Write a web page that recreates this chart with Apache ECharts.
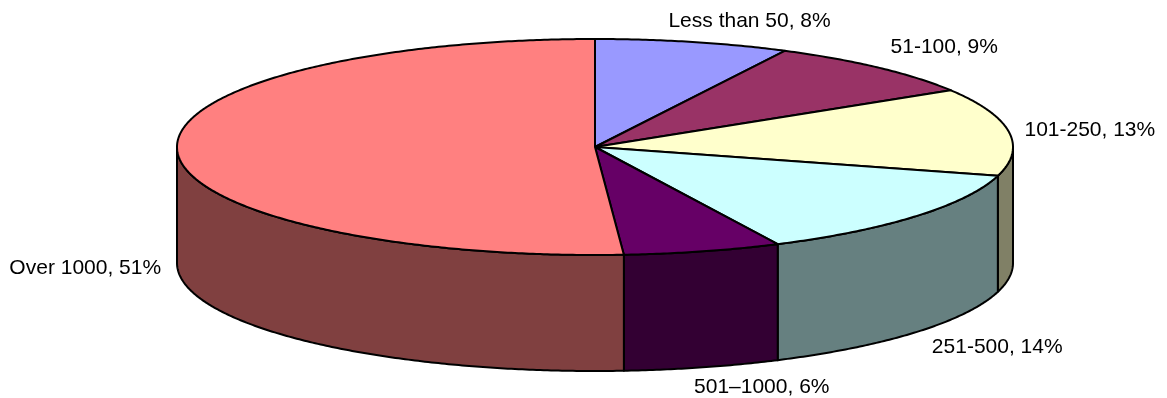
<!DOCTYPE html>
<html>
<head>
<meta charset="utf-8">
<style>
  html, body { margin: 0; padding: 0; background: #ffffff; }
  #chart { width: 1167px; height: 398px; }
</style>
<script src="https://cdn.jsdelivr.net/npm/echarts@6/dist/echarts.min.js"></script>
</head>
<body>
<div id="chart"></div>
<script>
// Share of respondents per size band, clockwise from twelve o'clock.
const categories = ['Less than 50', '51-100', '101-250', '251-500', '501\u20131000', 'Over 1000'];
const shares = [7.5, 8.7, 13.1, 13.5, 6.1, 51.1];

const topColors = ['#9999FF', '#993366', '#FFFFCC', '#CCFFFF', '#660066', '#FF8080'];
const wallColors = ['#4D4D80', '#4D1A33', '#808066', '#668080', '#330033', '#804040'];

// Label nudge from the rim point at each slice's middle angle.
const labelNudges = [[57, -21], [66, -20], [81, -2], [81, 15], [59, 20], [-92, 1]];

// Projected disc: centre, radii of the top ellipse, and wall height.
const disc = { cx: 595, cy: 147, rx: 418, ry: 108, depth: 116 };
const outline = { stroke: '#000000', lineWidth: 2, lineJoin: 'round' };

const total = shares.reduce((a, b) => a + b, 0);
const startAngles = [];
shares.reduce((sum, v, i) => { startAngles[i] = sum / total * 360; return sum + v; }, 0);

// Clockwise degrees from twelve o'clock to a point on the rim.
function rim(deg, drop) {
  const r = deg * Math.PI / 180;
  return [disc.cx + disc.rx * Math.sin(r), disc.cy - disc.ry * Math.cos(r) + (drop || 0)];
}

function arc(from, to, drop) {
  const steps = Math.max(2, Math.ceil(Math.abs(to - from) * 2));
  const pts = [];
  for (let i = 0; i <= steps; i++) pts.push(rim(from + (to - from) * i / steps, drop));
  return pts;
}

function renderSlice(params, api) {
  const i = api.value(0);
  const a0 = startAngles[i];
  const a1 = a0 + api.value(1) / total * 360;
  const children = [];

  // Only the front half of the cylinder wall faces the viewer.
  const w0 = Math.max(a0, 90);
  const w1 = Math.min(a1, 270);
  if (w1 > w0) {
    children.push({
      type: 'polygon',
      shape: { points: arc(w0, w1, 0).concat(arc(w1, w0, disc.depth)) },
      style: Object.assign({ fill: wallColors[i] }, outline)
    });
  }

  children.push({
    type: 'polygon',
    shape: { points: [[disc.cx, disc.cy]].concat(arc(a0, a1, 0)) },
    style: Object.assign({ fill: topColors[i] }, outline)
  });

  const mid = (a0 + a1) / 2;
  const anchor = rim(mid, Math.cos(mid * Math.PI / 180) < 0 ? disc.depth : 0);
  children.push({
    type: 'text',
    x: anchor[0] + labelNudges[i][0],
    y: anchor[1] + labelNudges[i][1],
    style: {
      text: categories[i] + ', ' + Math.round(api.value(1)) + '%',
      fill: '#000000',
      font: '21px "Liberation Sans", Arial, sans-serif',
      align: 'center',
      verticalAlign: 'middle'
    }
  });

  return { type: 'group', children: children };
}

const chart = echarts.init(document.getElementById('chart'), null, { renderer: 'canvas' });
chart.setOption({
  animation: false,
  backgroundColor: '#ffffff',
  tooltip: { show: false },
  series: [{
    type: 'custom',
    coordinateSystem: 'none',
    silent: true,
    renderItem: renderSlice,
    data: shares.map((v, i) => [i, v])
  }]
});
</script>
</body>
</html>
